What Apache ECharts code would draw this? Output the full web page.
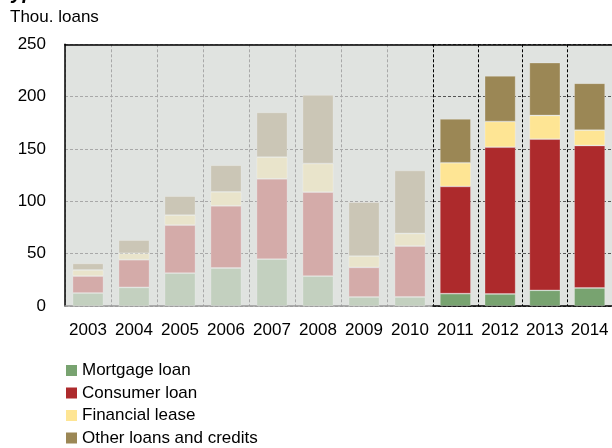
<!DOCTYPE html>
<html>
<head>
<meta charset="utf-8">
<script src="https://cdn.jsdelivr.net/npm/echarts@6/dist/echarts.min.js"></script>
<style>
html,body{margin:0;padding:0;background:#fff;}
#chart{width:612px;height:448px;}
</style>
</head>
<body>
<div id="chart"></div>
<script>
// ---- data ----
const years = ['2003','2004','2005','2006','2007','2008','2009','2010','2011','2012','2013','2014'];
const mortgage = [12.4, 17.8, 31.5, 36.3, 44.8, 28.6, 8.6, 8.6, 11.8, 11.5, 15.0, 17.2];
const consumer = [16.2, 26.4, 45.8, 59.4, 76.7, 80.2, 28.3, 48.7, 102.4, 140.2, 144.4, 136.1];
const lease    = [5.8, 6.1, 9.5, 13.3, 20.7, 27.3, 10.8, 12.0, 22.6, 24.5, 22.6, 14.7];
const other    = [6.3, 12.7, 18.2, 25.5, 42.8, 65.5, 51.5, 60.2, 41.9, 43.6, 50.5, 44.8];
const seriesNames = ['Mortgage loan', 'Consumer loan', 'Financial lease', 'Other loans and credits'];
const yTicks = [0, 50, 100, 150, 200, 250];
const highlightFrom = 8; // index of first highlighted year (2011)

// ---- styles ----
const darkColors  = ['#78a370', '#ad2a2c', '#fee594', '#9b8755'];
const fadedColors = ['#c3d0bf', '#d4aba9', '#e9e4cb', '#cbc6b6'];
const FONT = 'Liberation Sans, Arial, sans-serif';

const values = [mortgage, consumer, lease, other];
const leftYears = years.slice(0, highlightFrom);
const rightYears = years.slice(highlightFrom);

const catW = 46;
const plotLeft = 65, plotTop = 44.3, plotBottom = 448 - 306;

const chart = echarts.init(document.getElementById('chart'), null, {renderer: 'canvas'});

const series = [];
// highlighted (right) series first so legend picks dark colours
values.forEach((arr, i) => {
  series.push({
    name: seriesNames[i], type: 'bar', stack: 'r', xAxisIndex: 2, yAxisIndex: 1,
    data: arr.slice(highlightFrom), barWidth: 31,
    itemStyle: {color: darkColors[i], borderColor: 'rgba(255,255,255,0.3)', borderWidth: 0.8}
  });
});
values.forEach((arr, i) => {
  series.push({
    name: seriesNames[i], type: 'bar', stack: 'l', xAxisIndex: 0, yAxisIndex: 0,
    data: arr.slice(0, highlightFrom), barWidth: 31,
    itemStyle: {color: fadedColors[i], borderColor: 'rgba(255,255,255,0.3)', borderWidth: 0.8}
  });
});

const yBase = {
  type: 'value', min: yTicks[0], max: yTicks[yTicks.length - 1], interval: yTicks[1] - yTicks[0],
  axisTick: {show: false}
};

chart.setOption({
  animation: false,
  title: {
    text: 'Types of loans', left: 0, top: -17, padding: 0,
    textStyle: {fontFamily: FONT, fontSize: 20, fontWeight: 'bold', fontStyle: 'italic', color: '#000'}
  },
  graphic: [{
    type: 'text', left: 10, top: 9,
    style: {text: 'Thou. loans', font: '17px ' + FONT, fill: '#000'}
  }],
  grid: [
    {left: plotLeft, top: plotTop, bottom: plotBottom, width: catW * highlightFrom,
     show: true, backgroundColor: '#e0e3e0', borderWidth: 0},
    {left: plotLeft + catW * highlightFrom, top: plotTop, bottom: plotBottom, width: catW * (years.length - highlightFrom),
     show: true, backgroundColor: '#e0e3e0', borderWidth: 0}
  ],
  xAxis: [
    {gridIndex: 0, type: 'category', data: leftYears, position: 'bottom',
     axisLine: {lineStyle: {color: '#999', width: 1.5}}, axisTick: {show: false},
     axisLabel: {fontFamily: FONT, fontSize: 17, color: '#000', margin: 16, interval: 0},
     splitLine: {show: true, interval: 0, lineStyle: {color: '#a8a8a8', type: [3, 2], width: 1}}},
    {gridIndex: 0, type: 'category', data: leftYears, position: 'top',
     axisLine: {lineStyle: {color: '#000', width: 1.5}}, axisTick: {show: false},
     axisLabel: {show: false}, splitLine: {show: false}},
    {gridIndex: 1, type: 'category', data: rightYears, position: 'bottom',
     axisLine: {lineStyle: {color: '#000', width: 1.5}}, axisTick: {show: false},
     axisLabel: {fontFamily: FONT, fontSize: 17, color: '#000', margin: 16, interval: 0},
     splitLine: {show: true, interval: 0, lineStyle: {color: '#000', type: [3, 2], width: 1}}},
    {gridIndex: 1, type: 'category', data: rightYears, position: 'top',
     axisLine: {lineStyle: {color: '#000', width: 1.5}}, axisTick: {show: false},
     axisLabel: {show: false}, splitLine: {show: false}}
  ],
  yAxis: [
    Object.assign({}, yBase, {gridIndex: 0,
      axisLine: {show: true, lineStyle: {color: '#000', width: 1.5}},
      axisLabel: {fontFamily: FONT, fontSize: 17, color: '#000', margin: 19},
      splitLine: {show: true, lineStyle: {color: '#a8a8a8', type: [3, 2], width: 1}}}),
    Object.assign({}, yBase, {gridIndex: 1,
      axisLine: {show: false}, axisLabel: {show: false},
      splitLine: {show: true, lineStyle: {color: '#555', type: [3, 2], width: 1}}})
  ],
  legend: {
    orient: 'vertical', left: 66, top: 362, padding: 0,
    itemWidth: 11, itemHeight: 11, itemGap: 5.5, icon: 'rect',
    data: seriesNames.map((n, i) => ({name: n, itemStyle: {color: darkColors[i], borderWidth: 0}})),
    textStyle: {fontFamily: FONT, fontSize: 17, color: '#000', padding: [0, 0, 0, 0]},
    selectedMode: false
  },
  series: series
});
</script>
</body>
</html>
